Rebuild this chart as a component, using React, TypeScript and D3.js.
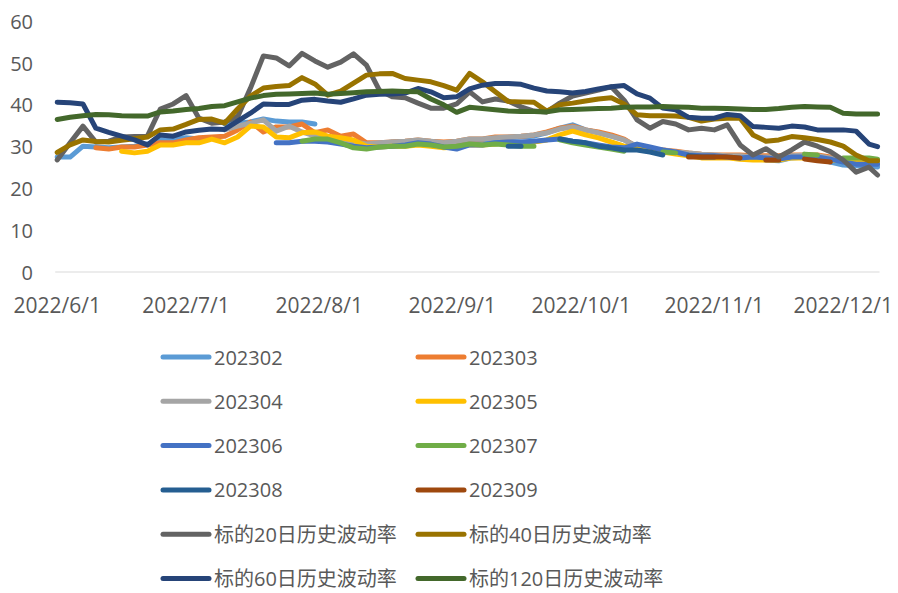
import React from 'react';
import * as d3 from 'd3';

// ---------- data ----------
const dates = [
  '2022-06-01','2022-06-04','2022-06-07','2022-06-10','2022-06-13','2022-06-16','2022-06-19','2022-06-22','2022-06-25','2022-06-28',
  '2022-07-01','2022-07-04','2022-07-07','2022-07-10','2022-07-13','2022-07-16','2022-07-19','2022-07-22','2022-07-25','2022-07-28',
  '2022-07-31','2022-08-03','2022-08-06','2022-08-09','2022-08-12','2022-08-15','2022-08-18','2022-08-21','2022-08-24','2022-08-27',
  '2022-08-30','2022-09-02','2022-09-05','2022-09-08','2022-09-11','2022-09-14','2022-09-17','2022-09-20','2022-09-23','2022-09-26',
  '2022-09-29','2022-10-02','2022-10-05','2022-10-08','2022-10-11','2022-10-14','2022-10-17','2022-10-20','2022-10-23','2022-10-26',
  '2022-10-29','2022-11-01','2022-11-04','2022-11-07','2022-11-10','2022-11-13','2022-11-16','2022-11-19','2022-11-22','2022-11-25',
  '2022-11-28','2022-12-01','2022-12-04','2022-12-07','2022-12-09',
];

const xTickDates = ['2022-06-01','2022-07-01','2022-08-01','2022-09-01','2022-10-01','2022-11-01','2022-12-01'];
const xTickLabels = ['2022/6/1','2022/7/1','2022/8/1','2022/9/1','2022/10/1','2022/11/1','2022/12/1'];
const yTicks = [0, 10, 20, 30, 40, 50, 60];

const c202302 = [
  27.5, 27.5, 30.1, 29.9, 29.7, 29.9, 30.1, 30.6, 31.6, 31.8,
  32.1, 31.8, null, 35.4, 35.6, 35.9, 36.6, 36.1, 35.9, 35.9,
  35.4, null, 30.9, 30.4, 30.1, 30.6, 31.1, 31.1, 31.3, 31.1,
  30.4, 30.9, 31.3, 31.6, 31.8, 32.1, 32.3, 32.5, 33.3, 34.4,
  35.2, 34.0, 33.3, 32.5, 31.6, 29.9, 29.2, 28.7, 28.5, 28.0,
  27.5, 27.8, 27.5, 27.3, 27.3, 26.8, 26.6, 27.3, 27.5, 27.3,
  26.3, 25.6, 25.4, 25.4, 25.1,
];
const c202303 = [
  null, null, null, 29.7, 29.4, 29.9, 29.9, 30.4, 30.9, 30.9,
  31.6, 32.1, 32.3, 32.5, 34.0, 35.9, 33.5, 34.7, 34.7, 35.4,
  33.3, 34.0, 32.5, 33.0, 30.9, 30.9, 31.1, 31.3, 31.6, 31.3,
  31.1, 31.3, 31.8, 31.8, 32.3, 32.3, 32.5, 32.8, 33.5, 34.4,
  34.9, 34.0, 33.5, 32.8, 31.8, 29.9, 29.4, 29.2, 28.9, 28.5,
  28.2, 28.0, 28.0, 28.0, 27.8, 27.8, 27.8, 28.0, 28.0, 28.0,
  27.5, 27.0, 26.8, 26.8, 26.8,
];
const c202304 = [
  null, null, null, null, null, null, null, null, null, null,
  null, null, null, 34.0, 34.9, 35.6, 36.4, 33.7, 34.9, 33.5,
  32.5, 32.3, 31.3, 31.1, 30.6, 30.9, 31.1, 31.3, 31.6, 31.3,
  30.9, 31.3, 31.8, 31.8, 32.1, 32.3, 32.5, 32.8, 33.3, 34.2,
  34.7, 34.0, 33.3, 32.5, 31.6, 30.1, 29.4, 29.2, 28.7, 28.5,
  28.2, 28.0, 27.8, 27.8, 27.5, 27.5, 27.5, 27.8, 28.0, 27.8,
  27.3, 26.8, 26.6, 26.3, 26.3,
];
const c202305 = [
  null, null, null, null, null, 28.9, 28.5, 28.9, 30.4, 30.4,
  30.9, 30.9, 31.8, 30.9, 32.3, 34.9, 34.7, 32.3, 32.1, 33.3,
  33.5, 32.5, 32.1, 31.6, 30.1, 29.9, 30.1, 30.1, 30.4, 30.1,
  29.7, 29.9, 30.4, 30.4, 30.6, 30.9, 30.9, 31.1, 31.6, 32.8,
  33.7, 32.8, 32.1, 31.1, 30.1, 29.7, 29.2, 28.7, 28.2, 27.8,
  27.3, 27.3, 27.3, 27.0, 26.8, 26.8, 26.8, 27.3, 27.3, 27.3,
  26.8, 26.6, 26.3, 26.3, 26.6,
];
const c202306 = [
  null, null, null, null, null, null, null, null, null, null,
  null, null, null, null, null, null, null, 30.9, 30.9, 31.3,
  31.3, 31.1, 30.6, 30.1, 29.7, 29.9, 30.1, 30.4, 30.9, 30.6,
  29.9, 29.4, 30.4, 30.4, 30.9, 31.1, 31.1, 31.3, 31.6, 31.8,
  31.3, 30.9, 30.4, 29.9, 29.7, 30.6, 29.9, 29.2, 28.7, 28.0,
  27.8, 27.8, 27.5, 27.3, 27.5, 27.3, 27.0, 27.5, 27.5, 27.5,
  27.0, 26.3, 25.8, 25.8, 25.8,
];
const c202307 = [
  null, null, null, null, null, null, null, null, null, null,
  null, null, null, null, null, null, null, null, null, 31.3,
  31.8, 31.8, 30.9, 29.7, 29.4, 29.9, 30.1, 30.1, 30.6, 30.4,
  29.9, 30.1, 30.6, 30.4, 30.6, 30.4, 30.1, 30.1, null, 31.6,
  30.9, 30.4, 29.9, 29.4, 28.9, null, null, 28.7, 28.5, null,
  null, null, null, null, null, null, null, null, 28.2, 28.0,
  null, 27.3, 27.3, 27.3, 27.0,
];
const c202308 = [
  null, null, null, null, null, null, null, null, null, null,
  null, null, null, null, null, null, null, null, null, null,
  null, null, null, null, null, null, null, null, null, null,
  null, null, null, null, null, 30.1, 30.1, null, null, 31.8,
  31.3, 30.9, 30.1, 29.7, 29.2, 29.2, 28.7, 28.0, null, 27.8,
  27.5, 27.5, null, null, null, null, null, null, null, null,
  null, null, null, null, null,
];
const c202309 = [
  null, null, null, null, null, null, null, null, null, null,
  null, null, null, null, null, null, null, null, null, null,
  null, null, null, null, null, null, null, null, null, null,
  null, null, null, null, null, null, null, null, null, null,
  null, null, null, null, null, null, null, null, null, 27.5,
  27.5, 27.5, 27.5, 27.3, null, 26.8, 26.8, null, 27.0, 26.6,
  26.3, null, null, null, null,
];
const hv20 = [
  26.8, 30.9, 34.9, 31.1, 31.3, 32.3, 32.4, 32.5, 39.0, 40.2,
  42.2, 36.8, 35.6, 35.9, 37.1, 44.0, 51.7, 51.2, 49.3, 52.3,
  50.5, 49.0, 50.2, 52.2, 49.5, 43.5, 41.9, 41.7, 40.4, 39.2,
  39.2, 40.2, 43.1, 40.7, 41.4, 40.9, 39.5, 38.5, 38.3, 40.4,
  42.1, 42.8, 43.5, 44.3, 41.1, 36.4, 34.4, 36.0, 35.4, 34.0,
  34.4, 34.0, 35.2, 30.4, 28.0, 29.5, 27.5, 29.2, 31.1, 30.1,
  28.8, 26.8, 23.9, 25.1, 23.2,
];
const hv40 = [
  28.6, 30.4, 31.6, 31.2, 31.1, 31.5, 31.9, 32.3, 34.0, 34.2,
  35.3, 36.5, 36.6, 35.6, 39.0, 42.1, 44.0, 44.4, 44.6, 46.5,
  45.0, 42.3, 43.3, 45.2, 47.1, 47.4, 47.5, 46.3, 45.9, 45.5,
  44.6, 43.5, 47.5, 45.5, 43.1, 40.8, 40.7, 40.6, 38.5, 40.0,
  40.4, 40.9, 41.4, 41.7, 40.2, 37.6, 37.4, 37.4, 37.3, 37.0,
  36.1, 36.6, 36.8, 36.8, 32.8, 31.3, 31.6, 32.4, 32.1, 31.7,
  31.1, 30.1, 28.0, 26.6, 26.6,
];
const hv60 = [
  40.6, 40.5, 40.2, 34.4, 33.4, 32.5, 31.6, 30.4, 32.8, 32.5,
  33.5, 33.9, 34.2, 34.1, 36.1, 38.0, 40.2, 40.1, 40.1, 41.1,
  41.3, 40.9, 40.6, 41.4, 42.3, 42.5, 42.6, 42.8, 43.9, 43.1,
  41.7, 41.9, 43.8, 44.7, 45.1, 45.1, 44.9, 44.0, 43.3, 43.1,
  42.8, 43.2, 43.8, 44.3, 44.6, 42.6, 41.6, 39.2, 38.8, 37.0,
  36.8, 36.8, 37.7, 37.4, 34.8, 34.6, 34.4, 34.9, 34.7, 34.0,
  34.0, 34.0, 33.7, 30.6, 30.0,
];
const hv120 = [
  36.5, 37.0, 37.4, 37.7, 37.6, 37.4, 37.3, 37.3, 38.3, 38.5,
  38.9, 39.1, 39.6, 39.8, 40.7, 41.6, 42.2, 42.5, 42.6, 42.7,
  42.8, 42.5, 42.7, 42.9, 43.1, 43.2, 43.3, 43.2, 43.1, 41.4,
  40.0, 38.2, 39.4, 39.1, 38.8, 38.5, 38.4, 38.4, 38.3, 38.8,
  38.9, 39.0, 39.1, 39.2, 39.4, 39.5, 39.5, 39.6, 39.5, 39.4,
  39.2, 39.2, 39.1, 39.0, 38.9, 38.9, 39.1, 39.4, 39.6, 39.5,
  39.4, 38.0, 37.8, 37.8, 37.8,
];

const seriesNames = [
  '202302', '202303', '202304', '202305', '202306', '202307', '202308', '202309',
  '标的20日历史波动率', '标的40日历史波动率', '标的60日历史波动率', '标的120日历史波动率',
];
const seriesValues = [c202302, c202303, c202304, c202305, c202306, c202307, c202308, c202309, hv20, hv40, hv60, hv120];
const seriesColors = [
  '#5B9BD5', '#ED7D31', '#A5A5A5', '#FFC000', '#4472C4', '#70AD47', '#255E91', '#9E480E',
  '#636363', '#997300', '#264478', '#43682B',
];

// ---------- component ----------
export default function App() {
  const W = 898;
  const H = 593;
  const parse = d3.utcParse('%Y-%m-%d');
  const parsedDates = dates.map((d) => parse(d) as Date);

  const x = d3
    .scaleUtc()
    .domain([parse('2022-06-01') as Date, parse('2022-12-01') as Date])
    .range([57.2, 843.2]);
  const y = d3.scaleLinear().domain([0, 60]).range([272, 21.2]);

  const line = d3
    .line<number | null>()
    .defined((d) => d !== null && d !== undefined)
    .x((_, i) => x(parsedDates[i]))
    .y((d) => y(d as number));

  const textColor = '#595959';
  const font = "'Open Sans', 'Noto Sans CJK SC', sans-serif";

  const axisX1 = x(parsedDates[0]) - 2;
  const axisX2 = x(parsedDates[parsedDates.length - 1]) + 2;

  // legend layout
  const legendCols = [163, 418];
  const legendRow0 = 357;
  const legendRowGap = 44.3;
  const legendLineLen = 46;

  return (
    <svg
      width={W}
      height={H}
      style={{ position: 'absolute', left: 0, top: 0, background: '#fff' }}
      fontFamily={font}
    >
      <rect x={0} y={0} width={W} height={H} fill="#fff" />
      {/* y tick labels */}
      {yTicks.map((t) => (
        <text
          key={'y' + t}
          x={33}
          y={y(t)}
          textAnchor="end"
          dominantBaseline="central"
          fontSize={20}
          fill={textColor}
        >
          {t}
        </text>
      ))}
      {/* x axis line */}
      <line x1={axisX1} x2={axisX2} y1={y(0)} y2={y(0)} stroke="#D9D9D9" strokeWidth={1.2} />
      {/* x tick labels */}
      {xTickDates.map((d, i) => (
        <text
          key={'x' + d}
          x={x(parse(d) as Date)}
          y={y(0) + 33}
          textAnchor="middle"
          dominantBaseline="central"
          fontSize={21}
          fill={textColor}
        >
          {xTickLabels[i]}
        </text>
      ))}
      {/* series */}
      {seriesValues.map((vals, si) => (
        <path
          key={'s' + si}
          d={line(vals) || ''}
          fill="none"
          stroke={seriesColors[si]}
          strokeWidth={5}
          strokeLinejoin="round"
          strokeLinecap="round"
        />
      ))}
      {/* legend */}
      {seriesNames.map((name, i) => {
        const col = i % 2;
        const row = Math.floor(i / 2);
        const lx = legendCols[col];
        const ly = legendRow0 + row * legendRowGap;
        return (
          <g key={'l' + i}>
            <line
              x1={lx}
              x2={lx + legendLineLen}
              y1={ly}
              y2={ly}
              stroke={seriesColors[i]}
              strokeWidth={5}
              strokeLinecap="round"
            />
            <text
              x={lx + legendLineLen + 5}
              y={ly}
              dominantBaseline="central"
              fontSize={20}
              fill={textColor}
            >
              {name}
            </text>
          </g>
        );
      })}
    </svg>
  );
}
